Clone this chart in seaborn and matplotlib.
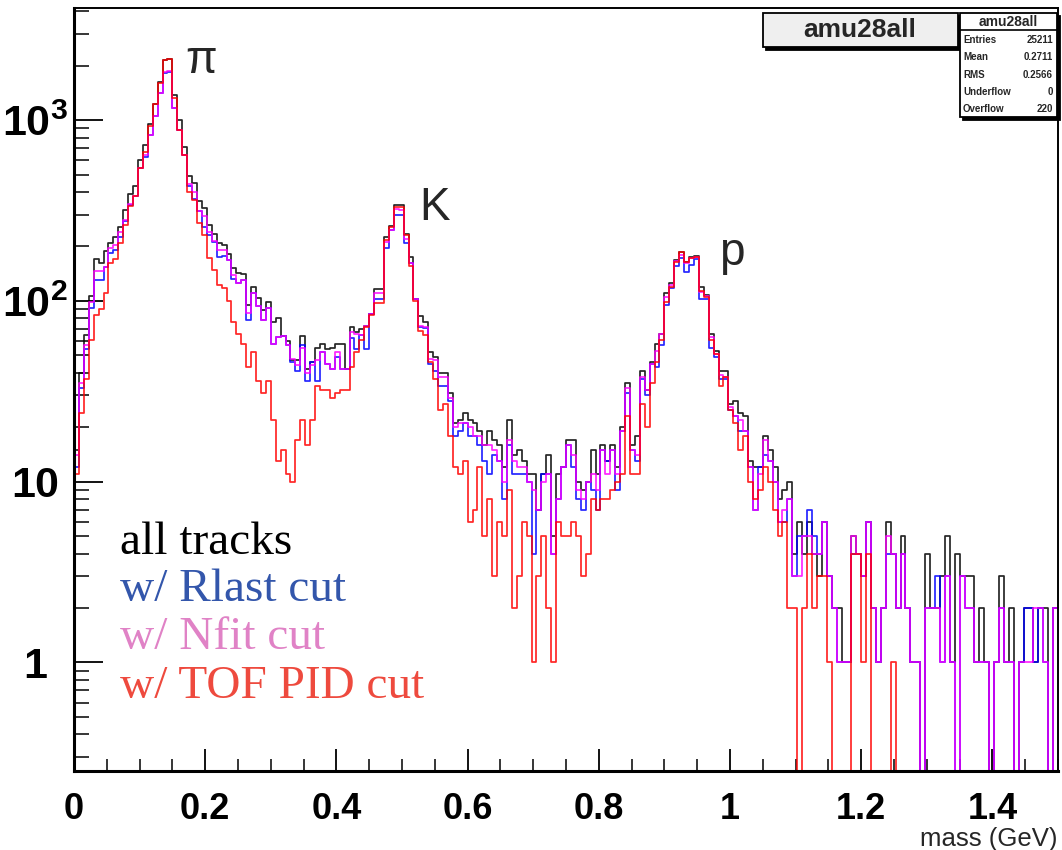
import numpy as np
import pandas as pd
import matplotlib
matplotlib.use("Agg")
import matplotlib.pyplot as plt
import seaborn as sns
from matplotlib.ticker import LogLocator, NullFormatter, MultipleLocator
from matplotlib.patches import Rectangle
from matplotlib.lines import Line2D

# ---------------- data (200 bins, 0 .. 1.5 GeV) ----------------
bin_lo, bin_hi, n_bins = 0.0, 1.5, 200

all_tracks = [
    15, 40, 65, 106, 170, 161, 188, 208, 225, 255,
    318, 390, 432, 600, 725, 950, 1220, 1630, 2140, 2180,
    1370, 1000, 710, 490, 450, 356, 325, 264, 235, 209,
    203, 181, 152, 142, 141, 95, 120, 104, 89, 99,
    76, 80, 64, 60, 47, 47, 64, 42, 46, 55,
    58, 54, 55, 58, 58, 42, 72, 67, 70, 73,
    85, 117, 117, 226, 258, 337, 337, 235, 175, 103,
    82, 76, 52, 49, 40, 40, 31, 21, 22, 24,
    22, 21, 19, 16, 19, 17, 16, 12, 22, 14,
    15, 13, 11, 11, 7, 11, 14, 5, 11, 12,
    17, 17, 10, 9, 10, 15, 11, 16, 13, 16,
    12, 20, 35, 16, 18, 41, 32, 46, 58, 66,
    110, 125, 168, 186, 165, 175, 177, 120, 108, 66,
    53, 41, 41, 27, 28, 24, 23, 13, 12, 12,
    18, 15, 12, 8, 9, 10, 4, 6, 4, 6,
    4, 3, 6, 3, 2, 2, 1, 1, 5, 4,
    3, 6, 2, 1, 2, 6, 4, 2, 5, 2,
    1, 1, 0, 4, 2, 2, 3, 5, 1, 4,
    3, 3, 3, 1, 2, 1, 0, 1, 3, 1,
    2, 0, 1, 2, 2, 1, 2, 2, 0, 2,
]

rlast_cut = [
    12, 33, 54, 91, 130, 130, 154, 183, 190, 225,
    275, 340, 380, 540, 625, 825, 1050, 1420, 1830, 1850,
    1170, 880, 640, 430, 365, 315, 255, 230, 212, 174,
    178, 168, 132, 125, 130, 78, 110, 94, 78, 91,
    58, 63, 64, 57, 46, 41, 57, 36, 46, 36,
    52, 45, 42, 49, 42, 42, 62, 54, 65, 54,
    85, 103, 103, 197, 247, 300, 300, 209, 161, 102,
    72, 71, 45, 41, 34, 34, 28, 18, 19, 21,
    18, 18, 16, 13, 11, 14, 13, 8, 16, 11,
    11, 11, 10, 4, 7, 11, 11, 4, 8, 12,
    16, 12, 8, 7, 10, 9, 7, 15, 13, 15,
    9, 19, 31, 15, 13, 37, 30, 45, 43, 57,
    95, 118, 155, 172, 145, 158, 170, 103, 103, 55,
    49, 37, 37, 25, 23, 19, 19, 12, 7, 12,
    14, 13, 10, 6, 6, 8, 3, 5, 5, 7,
    5, 4, 6, 3, 2, 1, 1, 1, 4, 4,
    3, 6, 2, 1, 2, 4, 4, 2, 4, 2,
    1, 1, 0, 2, 2, 3, 1, 3, 1, 0,
    3, 2, 2, 1, 1, 1, 0, 1, 2, 1,
    1, 0, 1, 2, 2, 1, 2, 1, 0, 2,
]

nfit_cut = [
    14, 35, 57, 98, 147, 147, 154, 195, 203, 240,
    281, 345, 380, 540, 640, 825, 1050, 1420, 1850, 1870,
    1170, 880, 640, 445, 400, 315, 295, 240, 214, 190,
    190, 168, 139, 125, 130, 86, 110, 94, 78, 91,
    58, 63, 64, 57, 48, 44, 55, 40, 44, 47,
    52, 45, 42, 52, 42, 42, 67, 66, 65, 73,
    85, 110, 110, 211, 247, 323, 320, 220, 161, 102,
    73, 72, 48, 47, 38, 38, 29, 20, 21, 21,
    20, 18, 18, 16, 16, 15, 13, 10, 17, 13,
    12, 12, 10, 9, 7, 10, 11, 4, 8, 12,
    16, 14, 9, 8, 10, 11, 9, 15, 11, 15,
    11, 19, 33, 15, 14, 38, 32, 45, 53, 66,
    105, 122, 166, 180, 163, 172, 175, 112, 106, 63,
    51, 39, 38, 26, 23, 22, 19, 12, 7, 11,
    17, 13, 10, 6, 7, 8, 3, 3, 5, 5,
    4, 4, 6, 3, 2, 1, 1, 1, 5, 4,
    3, 6, 2, 1, 2, 5, 4, 2, 4, 2,
    1, 1, 0, 2, 2, 2, 1, 3, 1, 0,
    3, 2, 2, 1, 1, 1, 0, 1, 2, 1,
    1, 0, 1, 1, 1, 2, 2, 1, 0, 2,
]

tof_pid_cut = [
    11, 24, 37, 61, 84, 90, 110, 163, 170, 210,
    262, 335, 380, 540, 670, 925, 1220, 1600, 2140, 2180,
    1320, 880, 640, 400, 360, 270, 230, 172, 148, 122,
    118, 100, 76, 66, 58, 43, 52, 36, 31, 36,
    22, 13, 15, 11, 10, 17, 22, 16, 22, 34,
    32, 32, 29, 31, 32, 32, 43, 52, 61, 72,
    84, 97, 97, 216, 255, 330, 330, 230, 155, 100,
    68, 65, 46, 37, 25, 27, 18, 12, 11, 13,
    6, 7, 12, 5, 8, 3, 6, 5, 9, 2,
    3, 6, 5, 1, 3, 5, 2, 1, 6, 5,
    5, 6, 5, 3, 4, 8, 7, 8, 8, 9,
    10, 11, 23, 11, 11, 27, 20, 35, 46, 61,
    99, 120, 165, 186, 165, 172, 175, 114, 105, 61,
    51, 34, 38, 25, 21, 15, 18, 10, 8, 9,
    12, 10, 7, 5, 6, 2, 2, 0, 2, 4,
    2, 3, 3, 1, 0, 0, 0, 0, 4, 4,
    1, 4, 0, 0, 0, 0, 1, 0, 0, 0,
    0, 0, 0, 0, 0, 0, 0, 0, 0, 0,
    0, 0, 0, 0, 0, 0, 0, 0, 0, 0,
    0, 0, 0, 0, 0, 0, 0, 0, 0, 0,
]

series_names = ["all tracks", "w/ Rlast cut", "w/ Nfit cut", "w/ TOF PID cut"]
peak_labels = ["π", "K", "p"]
x_ticks = [0, 0.2, 0.4, 0.6, 0.8, 1.0, 1.2, 1.4]
x_tick_labels = ["0", "0.2", "0.4", "0.6", "0.8", "1", "1.2", "1.4"]
y_ticks = [1, 10, 100, 1000]
y_tick_labels = ["1", "10", r"$\mathbf{10^{2}}$", r"$\mathbf{10^{3}}$"]
x_label = "mass (GeV)"
hist_name = "amu28all"
stats_labels = ["Entries", "Mean", "RMS", "Underflow", "Overflow"]
stats_values = ["25211", "0.2711", "0.2566", "0", "220"]

# ---------------- style ----------------
sns.set_style("white")
plt.rcParams["font.family"] = ["Liberation Sans", "DejaVu Sans"]
plt.rcParams["mathtext.fontset"] = "custom"
plt.rcParams["mathtext.rm"] = "Liberation Sans"
plt.rcParams["mathtext.bf"] = "Liberation Sans:bold"
plt.rcParams["mathtext.it"] = "Liberation Sans:italic"

W, H = 1062, 850
fig = plt.figure(figsize=(W / 100, H / 100), dpi=100)
fig.patch.set_facecolor("white")
ax = fig.add_axes([74 / W, 79 / H, (1058 - 74) / W, (771 - 8) / H])
ax.set_facecolor("white")

edges = np.linspace(bin_lo, bin_hi, n_bins + 1)
floor = 0.05
line_colors = ["#000000", "#0000ff", "#ff00ff", "#ff0000"]
for vals, col in zip([all_tracks, rlast_cut, nfit_cut, tof_pid_cut], line_colors):
    v = np.asarray(vals, dtype=float)
    v = np.where(v > 0, v, floor)
    xs = np.concatenate([[edges[0]], edges])
    ys = np.concatenate([[floor], v, [v[-1]]])
    df = pd.DataFrame({"x": xs, "y": ys})
    sns.lineplot(data=df, x="x", y="y", ax=ax, color=col, lw=1.25, alpha=0.85,
                 drawstyle="steps-post", sort=False, estimator=None)

ax.set_yscale("log")
ax.set_xlim(bin_lo, bin_hi)
ax.set_ylim(0.251, 4169)
ax.set_xlabel("")
ax.set_ylabel("")

# ticks
ax.set_xticks(x_ticks)
ax.set_xticklabels(x_tick_labels, fontweight="bold", fontsize=26)
ax.xaxis.set_minor_locator(MultipleLocator(0.05))
ax.set_yticks(y_ticks)
ax.set_yticklabels(y_tick_labels, fontweight="bold", fontsize=31, ha="center")
ax.yaxis.set_minor_locator(LogLocator(base=10, subs=np.arange(2, 10), numticks=30))
ax.yaxis.set_minor_formatter(NullFormatter())
ax.tick_params(axis="x", which="major", direction="in", length=16, width=1.3, pad=15,
               bottom=True, top=False, colors="black")
ax.tick_params(axis="x", which="minor", direction="in", length=8.5, width=1.1,
               bottom=True, top=False, colors="black")
ax.tick_params(axis="y", which="major", direction="in", length=21, width=1.3, pad=28,
               left=True, right=False, colors="black")
ax.tick_params(axis="y", which="minor", direction="in", length=11, width=1.1,
               left=True, right=False, colors="black")

for s in ["left", "bottom"]:
    ax.spines[s].set_linewidth(2.2)
    ax.spines[s].set_color("black")
for s in ["top", "right"]:
    ax.spines[s].set_linewidth(1.4)
    ax.spines[s].set_color("black")

# axis title
fig.text(1058 / W, 1 - 846 / H, x_label, ha="right", va="baseline", fontsize=18.5)

# legend texts (serif, coloured)
legend_colors = ["#000000", "#3356ab", "#e082c6", "#ee4a3e"]
legend_base = [554, 601, 649, 698]
for name, col, yb in zip(series_names, legend_colors, legend_base):
    fig.text(120 / W, 1 - yb / H, name, color=col, fontsize=34, va="baseline",
             family=["Liberation Serif", "DejaVu Serif"])

# peak labels
for lab, (px, py) in zip(peak_labels, [(185, 73), (419, 220), (719, 265)]):
    fig.text(px / W, 1 - py / H, lab, fontsize=33, va="baseline")


# boxes
def fbox(x0, y0, x1, y1, fc, lw=1.3, z=10):
    r = Rectangle((x0 / W, 1 - y1 / H), (x1 - x0) / W, (y1 - y0) / H,
                  transform=fig.transFigure, facecolor=fc, edgecolor="black",
                  linewidth=lw, zorder=z)
    fig.add_artist(r)


# title box
fbox(766, 16, 961, 50, "black", z=9)
fbox(763, 13, 958, 47, "#efefef", z=10)
fig.text(860 / W, 1 - 30 / H, hist_name, ha="center", va="center",
         fontsize=19, fontweight="bold", zorder=11)

# stats box
fbox(963, 16, 1060, 120, "black", z=9)
fbox(960, 13, 1057, 117, "white", z=10)
fig.add_artist(Line2D([960 / W, 1057 / W], [1 - 30 / H, 1 - 30 / H],
                      transform=fig.transFigure, color="black", lw=1.2, zorder=11))
fig.text(1008 / W, 1 - 21.5 / H, hist_name, ha="center", va="center",
         fontsize=10, fontweight="bold", zorder=11)
for lab, val, yy in zip(stats_labels, stats_values, [40, 57, 74.5, 92, 109]):
    fig.text(963 / W, 1 - yy / H, lab, ha="left", va="center", fontsize=7,
             fontweight="bold", zorder=11)
    fig.text(1053 / W, 1 - yy / H, val, ha="right", va="center", fontsize=7,
             fontweight="bold", zorder=11)

fig.savefig("out.png", dpi=100, facecolor="white")
